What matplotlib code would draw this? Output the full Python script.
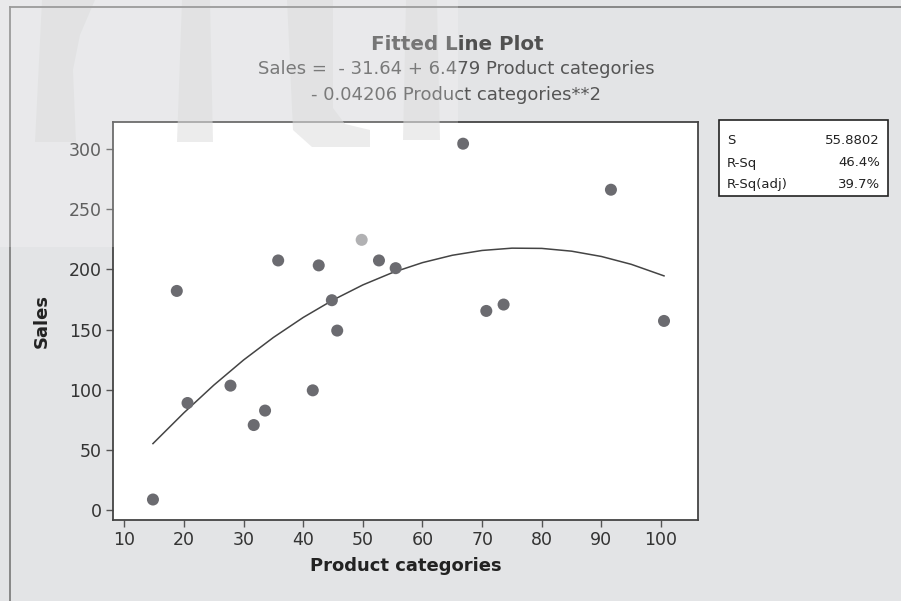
import matplotlib
matplotlib.use("Agg")
import matplotlib.pyplot as plt
from matplotlib.patches import Polygon, Rectangle
from matplotlib.lines import Line2D

# ---------------- data ----------------
product_categories = [14.8, 18.8, 20.6, 27.8, 31.7, 33.6, 35.8, 41.6, 42.6, 44.8,
                      45.7, 52.7, 55.5, 66.8, 70.7, 73.6, 91.6, 100.5]
sales = [9.1, 182.2, 89.2, 103.6, 70.9, 82.9, 207.5, 99.7, 203.4, 174.5,
         149.3, 207.5, 201.1, 304.4, 165.6, 170.9, 266.2, 157.3]
# highlighted (lighter) observation
hl_x = [49.8]
hl_y = [224.6]

# fitted curve
fit_x = [14.8, 20, 25, 30, 35, 40, 45, 50, 55, 60, 65, 70, 75, 80, 85, 90, 95, 100.5]
fit_y = [55.5, 81.1, 104.0, 124.9, 143.6, 160.2, 174.7, 187.2, 197.5, 205.7,
         211.8, 215.8, 217.7, 217.5, 215.2, 210.8, 204.3, 194.7]

x_ticks = [10, 20, 30, 40, 50, 60, 70, 80, 90, 100]
y_ticks = [0, 50, 100, 150, 200, 250, 300]

title = "Fitted Line Plot"
subtitle1 = "Sales =  - 31.64 + 6.479 Product categories"
subtitle2 = "- 0.04206 Product categories**2"
stats_labels = ["S", "R-Sq", "R-Sq(adj)"]
stats_values = ["55.8802", "46.4%", "39.7%"]

# ---------------- figure ----------------
plt.rcParams['font.family'] = ['DejaVu Sans']
W, H = 901, 601
fig = plt.figure(figsize=(W / 100, H / 100), dpi=100)
bg = '#e3e4e6'
fig.patch.set_facecolor(bg)

def fx(px):
    return px / W

def fy(py):
    return 1 - py / H

ax = fig.add_axes([fx(113), fy(520), fx(698) - fx(113), fy(122) - fy(520)])
ax.set_facecolor('white')

ax.plot(fit_x, fit_y, color='#444444', lw=1.1, zorder=2)
ax.scatter(product_categories, sales, s=75, color='#6b6b70', edgecolors='none', zorder=3)
ax.scatter(hl_x, hl_y, s=75, color='#9c9c9e', edgecolors='none', zorder=3)

ax.set_xlim(8.1, 106.2)
ax.set_ylim(-7.9, 322.4)
ax.set_xticks(x_ticks)
ax.set_yticks(y_ticks)
ax.tick_params(axis='both', direction='out', length=5, width=1, color='#555555',
               labelsize=12.5, labelcolor='#333333', pad=3)
for sp in ax.spines.values():
    sp.set_color('#444444')
    sp.set_linewidth(1.3)

ax.set_xlabel("Product categories", fontsize=13, fontweight='bold', color='#222222', labelpad=6)
ax.set_ylabel("Sales", fontsize=13, fontweight='bold', color='#222222', labelpad=13)

# titles
fig.text(fx(457), fy(44), title, ha='center', va='center', fontsize=14.3,
         fontweight='bold', color='#505050')
fig.text(fx(456), fy(69), subtitle1, ha='center', va='center', fontsize=13, color='#555555')
fig.text(fx(456), fy(95), subtitle2, ha='center', va='center', fontsize=13, color='#555555')

# stats box
box = Rectangle((fx(719), fy(196)), fx(888) - fx(719), fy(120) - fy(196),
                transform=fig.transFigure, facecolor='white', edgecolor='#222222', lw=1.2)
fig.add_artist(box)
row_y = [140, 163, 185]
for lab, val, ry in zip(stats_labels, stats_values, row_y):
    fig.text(fx(727), fy(ry), lab, ha='left', va='center', fontsize=9.5, color='#222222')
    fig.text(fx(880), fy(ry), val, ha='right', va='center', fontsize=9.5, color='#222222')

# outer frame
fig.add_artist(Line2D([fx(10), fx(901)], [fy(7), fy(7)], transform=fig.transFigure,
                      color='#808080', lw=1.3))
fig.add_artist(Line2D([fx(10), fx(10)], [fy(7), fy(601)], transform=fig.transFigure,
                      color='#808080', lw=1.3))

# translucent watermark overlay (decoration)
shapes = [
    [(35, 142), (76, 142), (73, 70), (80, 35), (95, 0), (42, 0)],
    [(177, 142), (213, 142), (210, 0), (182, 0)],
    [(287, 0), (333, 0), (333, 108), (345, 124), (370, 130), (370, 147), (312, 147), (293, 130)],
    [(403, 140), (440, 140), (437, 0), (406, 0)],
]
for shp in shapes:
    fig.add_artist(Polygon([(fx(a), fy(b)) for a, b in shp], closed=True,
                           transform=fig.transFigure, facecolor='#d4d4d4',
                           edgecolor='none', alpha=0.55, zorder=1))
fig.add_artist(Rectangle((0, fy(247)), fx(458), 247 / H, transform=fig.transFigure,
                         facecolor='white', edgecolor='none', alpha=0.22, zorder=20))

fig.savefig("out.png", dpi=100, facecolor=fig.get_facecolor())
